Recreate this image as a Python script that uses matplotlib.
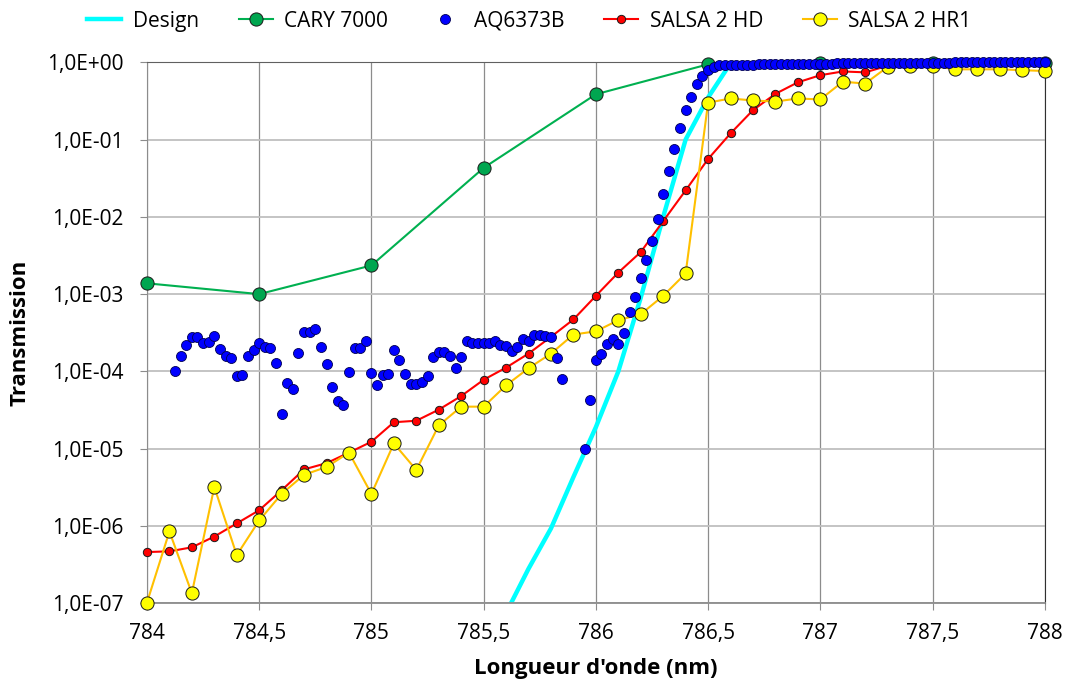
import numpy as np
import matplotlib
matplotlib.use('Agg')
import matplotlib.pyplot as plt
from matplotlib.ticker import FuncFormatter, FixedLocator

plt.rcParams['font.family'] = ['Open Sans', 'DejaVu Sans']

######################################
# Data

# Design (theoretical curve)
design_wl = [785.5, 785.6, 785.7, 785.8, 785.9, 786.0, 786.1, 786.2, 786.3, 786.4,
             786.5, 786.6, 786.7, 786.8, 786.9, 787.0, 787.1, 787.2, 787.3, 787.4,
             787.5, 787.6, 787.7, 787.8, 787.9, 788.0]
design_T = [2e-8, 7.5e-8, 2.8e-7, 9.3e-7, 4.3e-6, 1.9e-5, 1.0e-4, 9.0e-4, 1.0e-2, 0.1,
            0.35, 0.97, 1.0, 1.0, 1.0, 1.0, 1.0, 1.0, 1.0, 1.0,
            1.0, 1.0, 1.0, 1.0, 1.0, 1.0]

# CARY 7000
cary_wl = [784.0, 784.5, 785.0, 785.5, 786.0, 786.5, 787.0, 787.5, 788.0]
cary_T = [1.38e-3, 1.0e-3, 2.35e-3, 0.043, 0.385, 0.94, 0.98, 0.99, 0.99]

# AQ6373B, 0.025 nm step from 784.125 to 788.0 (nan = not shown on log scale)
aq_wl = np.linspace(784.125, 788.0, 156)
aq_T = [1.0e-4, 1.6e-4, 2.2e-4, 2.75e-4, 2.75e-4, 2.3e-4, 2.4e-4, 2.9e-4, 1.95e-4, 1.6e-4,
        1.5e-4, 8.7e-5, 8.9e-5, 1.6e-4, 1.9e-4, 2.3e-4, 2.1e-4, 2.0e-4, 1.3e-4, 2.8e-5,
        7.1e-5, 5.9e-5, 1.75e-4, 3.2e-4, 3.2e-4, 3.5e-4, 2.1e-4, 1.26e-4, 6.2e-5, 4.1e-5,
        3.7e-5, 9.8e-5, 2.0e-4, 2.0e-4, 2.5e-4, 9.5e-5, 6.6e-5, 9.1e-5, 9.3e-5, 1.9e-4,
        1.4e-4, 9.3e-5, 6.8e-5, 6.8e-5, 7.2e-5, 8.7e-5, 1.55e-4, 1.8e-4, 1.8e-4, 1.6e-4,
        1.1e-4, 1.55e-4, 2.45e-4, 2.35e-4, 2.35e-4, 2.35e-4, 2.3e-4, 2.45e-4, 2.2e-4, 2.15e-4,
        1.85e-4, 2.1e-4, 2.6e-4, 2.5e-4, 3.0e-4, 3.0e-4, 2.9e-4, 2.75e-4, 1.5e-4, 7.9e-5,
        np.nan, np.nan, np.nan, 9.8e-6, 4.3e-5, 1.4e-4, 1.7e-4, 2.25e-4, 2.6e-4, 2.25e-4,
        3.1e-4, 5.8e-4, 9.1e-4, 1.6e-3, 2.75e-3, 4.9e-3, 9.5e-3, 0.0195, 0.039, 0.076,
        0.14, 0.24, 0.36, 0.52, 0.66, 0.79, 0.88, 0.92, 0.92, 0.92,
        0.93, 0.93, 0.93, 0.93, 0.94, 0.94, 0.94, 0.94, 0.95, 0.95,
        0.95, 0.95, 0.95, 0.96, 0.96, 0.96, 0.96, 0.96, 0.97, 0.97,
        0.97, 0.97, 0.97, 0.97, 0.98, 0.98, 0.98, 0.98, 0.98, 0.98,
        0.98, 0.99, 0.99, 0.99, 0.99, 0.99, 0.99, 0.99, 0.99, 1.0,
        1.0, 1.0, 1.0, 1.0, 1.0, 1.0, 1.0, 1.0, 1.0, 1.0,
        1.0, 1.0, 1.0, 1.0, 1.0, 1.0]

# SALSA, 0.1 nm step from 784 to 788
salsa_wl = np.linspace(784.0, 788.0, 41)
hd_T = [4.6e-7, 4.7e-7, 5.3e-7, 7.3e-7, 1.08e-6, 1.6e-6, 2.9e-6, 5.4e-6, 6.5e-6, 8.9e-6,
        1.23e-5, 2.2e-5, 2.3e-5, 3.2e-5, 4.8e-5, 7.8e-5, 1.12e-4, 1.7e-4, 2.8e-4, 4.7e-4,
        9.5e-4, 1.9e-3, 3.5e-3, 8.8e-3, 0.022, 0.056, 0.12, 0.24, 0.39, 0.55,
        0.68, 0.76, 0.74, 0.90, 0.93, 0.95, 0.96, 0.96, 0.97, 0.97,
        0.98]
hr1_T = [1.02e-7, 8.5e-7, 1.35e-7, 3.2e-6, 4.2e-7, 1.18e-6, 2.6e-6, 4.6e-6, 5.8e-6, 8.9e-6,
         2.6e-6, 1.17e-5, 5.3e-6, 2.0e-5, 3.5e-5, 3.5e-5, 6.6e-5, 1.1e-4, 1.7e-4, 3.0e-4,
         3.3e-4, 4.6e-4, 5.5e-4, 9.5e-4, 1.85e-3, 0.30, 0.34, 0.32, 0.31, 0.34,
         0.33, 0.56, 0.53, 0.87, 0.90, 0.90, 0.81, 0.81, 0.81, 0.79,
         0.77]

######################################

fig = plt.figure(figsize=(10.65, 6.84), dpi=100)
ax = fig.add_axes([0.138, 0.118, 0.843, 0.791])

ax.plot(design_wl, design_T, color='#00FFFF', lw=3.2, label='Design', zorder=2)
ax.plot(cary_wl, cary_T, color='#00B050', lw=1.5, marker='o', ms=9.5,
        mfc='#00A650', mec='#1a1a1a', mew=0.7, label='CARY 7000', zorder=3, clip_on=False)
ax.plot(salsa_wl, hd_T, color='#FF0000', lw=1.5, marker='o', ms=6.0,
        mfc='#FF0000', mec='#1a1a1a', mew=0.7, label='SALSA 2 HD', zorder=4, clip_on=False)
ax.plot(salsa_wl, hr1_T, color='#FFC000', lw=1.5, marker='o', ms=9.5,
        mfc='#FFFF00', mec='#1a1a1a', mew=0.7, label='SALSA 2 HR1', zorder=5, clip_on=False)
ax.plot(aq_wl, aq_T, ls='none', marker='o', ms=7.2,
        mfc='#0000FF', mec='#000050', mew=0.6, label='AQ6373B', zorder=6, clip_on=False)

ax.set_yscale('log')
ax.set_xlim(784, 788)
ax.set_ylim(1e-7, 1.0)

ax.xaxis.set_major_locator(FixedLocator(np.arange(784, 788.01, 0.5)))
ax.yaxis.set_major_locator(FixedLocator([10.0 ** e for e in range(-7, 1)]))
ax.yaxis.set_minor_locator(FixedLocator([]))
ax.xaxis.set_major_formatter(FuncFormatter(lambda v, p: ('%g' % v).replace('.', ',')))
ax.yaxis.set_major_formatter(FuncFormatter(lambda v, p: '1,0E%+03d' % int(round(np.log10(v)))))

ax.grid(axis='y', color='#bfbfbf', lw=1.3, zorder=0)
ax.grid(axis='x', color='#8c8c8c', lw=0.9, zorder=0)
ax.set_axisbelow(True)

ax.spines['left'].set_color('#8c8c8c')
ax.spines['bottom'].set_color('#8c8c8c')
ax.spines['bottom'].set_linewidth(1.3)
ax.spines['top'].set_color('#606060')
ax.spines['right'].set_color('#303030')
ax.tick_params(axis='both', direction='out', length=5, color='#8c8c8c',
               labelsize=15, labelcolor='black')
ax.tick_params(axis='y', pad=12)
ax.tick_params(axis='x', pad=9)

ax.set_xlabel("Longueur d'onde (nm)", fontsize=16, fontweight='bold')
ax.set_ylabel('Transmission', fontsize=16, fontweight='bold')
ax.xaxis.label.set_va('center')
ax.yaxis.label.set_va('center')
ax.xaxis.set_label_coords(0.5, -0.12)
ax.yaxis.set_label_coords(-0.141, 0.5)

handles, labels = ax.get_legend_handles_labels()
order = ['Design', 'CARY 7000', 'AQ6373B', 'SALSA 2 HD', 'SALSA 2 HR1']
hmap = dict(zip(labels, handles))
fig.legend([hmap[k] for k in order], order, loc='upper center',
           bbox_to_anchor=(0.497, 1.012), ncol=5, frameon=False, fontsize=15,
           handlelength=1.65, columnspacing=1.9, handletextpad=0.55)

fig.savefig('out.png', dpi=100)
